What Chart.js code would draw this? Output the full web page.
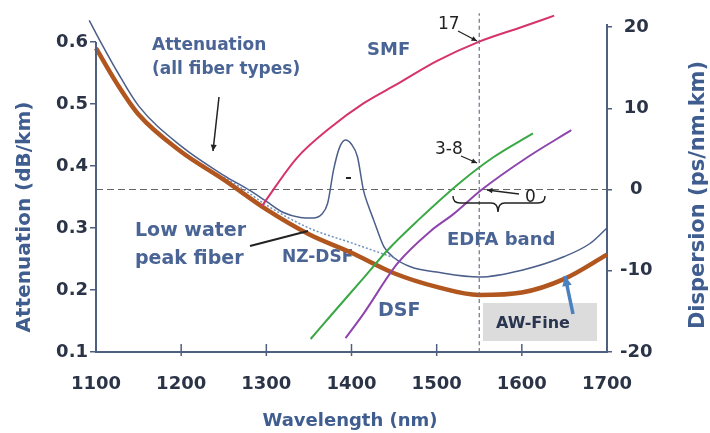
<!DOCTYPE html>
<html>
<head>
<meta charset="utf-8">
<script src="https://cdn.jsdelivr.net/npm/chart.js@4.4.1/dist/chart.umd.min.js"></script>
<style>
  html, body { margin: 0; padding: 0; background: #fff; }
</style>
</head>
<body>
<canvas id="fiberChart" width="710" height="433"></canvas>
<script>
// axis ticks
const wlTicks = [1100, 1200, 1300, 1400, 1500, 1600, 1700];
const attTicks = [0.1, 0.2, 0.3, 0.4, 0.5, 0.6];
const dispTicks = [-20, -10, 0, 10, 20];

// low water peak fiber attenuation (dB/km)
const lwpWl  = [1100, 1125, 1150, 1200, 1250, 1300, 1350, 1400, 1450, 1500, 1550, 1600, 1650, 1700];
const lwpAtt = [0.59, 0.532, 0.483, 0.423, 0.378, 0.33, 0.29, 0.26, 0.227, 0.205, 0.192, 0.196, 0.218, 0.257];

// attenuation, all fiber types (with water peak near 1390 nm)
const allWl  = [1092, 1100, 1125, 1150, 1200, 1250, 1280, 1300, 1320, 1340, 1355, 1365, 1372, 1379, 1386, 1393,
                1400, 1407, 1414, 1420, 1426, 1438, 1450, 1470, 1500, 1550, 1600, 1650, 1680, 1700];
const allAtt = [0.635, 0.614, 0.552, 0.497, 0.432, 0.385, 0.361, 0.343, 0.325, 0.317, 0.316, 0.322, 0.34, 0.394, 0.43, 0.442,
                0.435, 0.415, 0.361, 0.335, 0.313, 0.27, 0.252, 0.237, 0.229, 0.221, 0.232, 0.254, 0.275, 0.30];

// dotted attenuation under the water peak
const dotWl  = [1250, 1280, 1300, 1350, 1400, 1450];
const dotAtt = [0.383, 0.356, 0.337, 0.300, 0.276, 0.252];

// dispersion (ps/nm.km)
const smfWl   = [1295, 1336, 1375, 1414, 1454, 1500, 1550, 1600, 1638];
const smfDisp = [-2.0, 3.9, 7.6, 10.6, 13.0, 15.8, 18.2, 20.0, 21.4];
const nzWl    = [1352, 1375, 1414, 1442, 1478, 1528, 1567, 1613];
const nzDisp  = [-18.4, -15.6, -10.9, -7.5, -3.8, 0.9, 4.0, 6.9];
const dsfWl   = [1393, 1414, 1454, 1493, 1520, 1552, 1607, 1658];
const dsfDisp = [-18.3, -15.3, -9.1, -5.1, -3.0, -0.1, 4.0, 7.3];

// reference lines: zero dispersion and EDFA band centre
const zeroWl = [1100, 1700];
const zeroDisp = [0, 0];
const edfaWl = [1550, 1550];
const edfaDisp = [-20, 21.7];

const pts = (xs, ys) => xs.map((x, i) => ({ x: x, y: ys[i] }));

const FONT = "'DejaVu Sans', sans-serif";
const axisColor = '#4f5f80';
const tickColor = '#2b3447';
const titleColor = '#3f5d8e';
const noteBlue = '#4a6595';

function text(ctx, str, x, y, size, color, opts) {
  opts = opts || {};
  ctx.font = (opts.weight || 'bold') + ' ' + size + 'px ' + FONT;
  ctx.fillStyle = color;
  ctx.textAlign = opts.align || 'left';
  ctx.textBaseline = 'middle';
  ctx.fillText(str, x, y);
}

function arrow(ctx, x1, y1, x2, y2, color, width, head) {
  ctx.strokeStyle = color;
  ctx.fillStyle = color;
  ctx.lineWidth = width;
  ctx.beginPath();
  ctx.moveTo(x1, y1);
  ctx.lineTo(x2, y2);
  ctx.stroke();
  if (head) {
    const a = Math.atan2(y2 - y1, x2 - x1);
    ctx.beginPath();
    ctx.moveTo(x2, y2);
    ctx.lineTo(x2 - head * Math.cos(a - 0.45), y2 - head * Math.sin(a - 0.45));
    ctx.lineTo(x2 - head * Math.cos(a + 0.45), y2 - head * Math.sin(a + 0.45));
    ctx.closePath();
    ctx.fill();
  }
}

// draws labels, arrows, brace and axis titles
const decorations = {
  id: 'decorations',
  beforeDatasetsDraw(chart) {
    const ctx = chart.ctx;
    ctx.save();
    // AW-Fine box
    ctx.fillStyle = '#dcdcdc';
    ctx.fillRect(483, 303, 114, 38);
    text(ctx, 'AW-Fine', 533, 324, 16, '#2a3550', { align: 'center' });

    text(ctx, 'Attenuation', 152, 46, 17, noteBlue);
    text(ctx, '(all fiber types)', 152, 70, 17, noteBlue);
    text(ctx, 'SMF', 367, 50, 18, noteBlue);
    text(ctx, 'EDFA band', 447, 240, 18, noteBlue);
    text(ctx, 'Low water', 135, 231, 19, noteBlue);
    text(ctx, 'peak fiber', 135, 259, 19, noteBlue);
    text(ctx, 'NZ-DSF', 282, 258, 17, noteBlue);
    text(ctx, 'DSF', 378, 311, 19, noteBlue);
    ctx.restore();
  },
  afterDatasetsDraw(chart) {
    const ctx = chart.ctx;
    const xs = chart.scales.x, ya = chart.scales.yAtt;
    const area = chart.chartArea;
    ctx.save();

    // left axis line starts at the 0.6 tick
    ctx.strokeStyle = axisColor;
    ctx.lineWidth = 2;
    ctx.beginPath();
    ctx.moveTo(area.left, ya.getPixelForValue(0.6));
    ctx.lineTo(area.left, area.bottom);
    ctx.stroke();

    // inside tick marks on the wavelength axis
    ctx.lineWidth = 1.5;
    wlTicks.slice(1, -1).forEach(v => {
      const px = xs.getPixelForValue(v);
      ctx.beginPath();
      ctx.moveTo(px, area.bottom - 8);
      ctx.lineTo(px, area.bottom + 4);
      ctx.stroke();
    });

    // value notes
    text(ctx, '17', 438, 25, 17, '#222', { weight: 'normal' });
    arrow(ctx, 458, 31, 477, 41, '#222', 1.3, 6);
    text(ctx, '3-8', 435, 150, 17, '#222', { weight: 'normal' });
    arrow(ctx, 461, 156, 477, 163, '#222', 1.3, 6);
    text(ctx, '0', 525, 198, 17, '#222', { weight: 'normal' });
    arrow(ctx, 519, 194, 487, 190, '#222', 1.3, 6);

    // brace under the EDFA band
    ctx.strokeStyle = '#222';
    ctx.lineWidth = 1.5;
    ctx.beginPath();
    ctx.moveTo(453, 196);
    ctx.quadraticCurveTo(453, 203, 460, 203);
    ctx.lineTo(491, 203);
    ctx.quadraticCurveTo(498, 203, 498, 212);
    ctx.quadraticCurveTo(498, 203, 505, 203);
    ctx.lineTo(538, 203);
    ctx.quadraticCurveTo(545, 203, 545, 196);
    ctx.stroke();

    // water peak marker
    ctx.lineWidth = 2;
    ctx.beginPath();
    ctx.moveTo(346, 178);
    ctx.lineTo(351, 178);
    ctx.stroke();

    // pointers
    arrow(ctx, 219, 97, 213, 151, '#222', 1.5, 7);
    arrow(ctx, 250, 246, 308, 231, '#222', 2, 0);
    arrow(ctx, 573, 314, 565, 276, '#4a7fc0', 3.5, 11);

    // axis titles
    ctx.save();
    ctx.translate(25, 217);
    ctx.rotate(-Math.PI / 2);
    text(ctx, 'Attenuation (dB/km)', 0, 0, 20, titleColor, { align: 'center' });
    ctx.restore();
    ctx.save();
    ctx.translate(699, 195);
    ctx.rotate(-Math.PI / 2);
    text(ctx, 'Dispersion (ps/nm.km)', 0, 0, 21, titleColor, { align: 'center' });
    ctx.restore();
    text(ctx, 'Wavelength (nm)', 350, 421, 18, titleColor, { align: 'center' });

    ctx.restore();
  }
};

const line = (label, data, axis, color, width, extra) => Object.assign({
  label: label,
  data: data,
  yAxisID: axis,
  borderColor: color,
  borderWidth: width,
  pointRadius: 0,
  fill: false,
  cubicInterpolationMode: 'monotone',
  clip: false
}, extra || {});

new Chart(document.getElementById('fiberChart'), {
  type: 'line',
  data: {
    datasets: [
      line('EDFA centre', pts(edfaWl, edfaDisp), 'yDisp', '#6d7386', 1.2, { borderDash: [4, 3] }),
      line('SMF', pts(smfWl, smfDisp), 'yDisp', '#d6336b', 2),
      line('NZ-DSF', pts(nzWl, nzDisp), 'yDisp', '#3aa845', 2),
      line('DSF', pts(dsfWl, dsfDisp), 'yDisp', '#8e44ad', 2),
      line('Low water peak fiber', pts(lwpWl, lwpAtt), 'yAtt', '#b0561e', 4.5),
      line('Attenuation (dotted)', pts(dotWl, dotAtt), 'yAtt', '#7090c0', 1.5, { borderDash: [2, 2] }),
      line('Attenuation (all fiber types)', pts(allWl, allAtt), 'yAtt', '#4b5f8a', 1.5),
      line('Zero dispersion', pts(zeroWl, zeroDisp), 'yDisp', '#666', 1, { borderDash: [7, 4] })
    ]
  },
  options: {
    responsive: false,
    animation: false,
    layout: { padding: { top: 25 } },
    plugins: { legend: { display: false }, tooltip: { enabled: false } },
    scales: {
      x: {
        type: 'linear',
        min: 1100,
        max: 1700,
        afterFit: s => { s.height = 81; },
        afterBuildTicks: s => { s.ticks = wlTicks.map(v => ({ value: v })); },
        grid: { display: false },
        border: { display: true, color: axisColor, width: 2 },
        ticks: { color: tickColor, padding: 14, maxRotation: 0, callback: v => String(v),
                 font: { family: FONT, size: 18, weight: 'bold' } }
      },
      yAtt: {
        position: 'left',
        min: 0.1,
        max: 0.6274,
        afterFit: s => { s.width = 96; },
        afterBuildTicks: s => { s.ticks = attTicks.map(v => ({ value: v })); },
        grid: { display: true, drawOnChartArea: false, drawTicks: true, tickLength: 6, color: axisColor, lineWidth: 1.5 },
        border: { display: false },
        ticks: { color: tickColor, padding: 2, callback: v => v.toFixed(1), font: { family: FONT, size: 18, weight: 'bold' } }
      },
      yDisp: {
        position: 'right',
        min: -20,
        max: 20.25,
        afterFit: s => { s.width = 103; },
        afterBuildTicks: s => { s.ticks = dispTicks.map(v => ({ value: v })); },
        grid: { display: true, drawOnChartArea: false, drawTicks: true, tickLength: 5, color: axisColor, lineWidth: 1.5 },
        border: { display: true, color: axisColor, width: 2 },
        ticks: { color: tickColor, padding: 8, crossAlign: 'center', callback: v => String(v),
                 font: { family: FONT, size: 18, weight: 'bold' } }
      }
    }
  },
  plugins: [decorations]
});
</script>
</body>
</html>
